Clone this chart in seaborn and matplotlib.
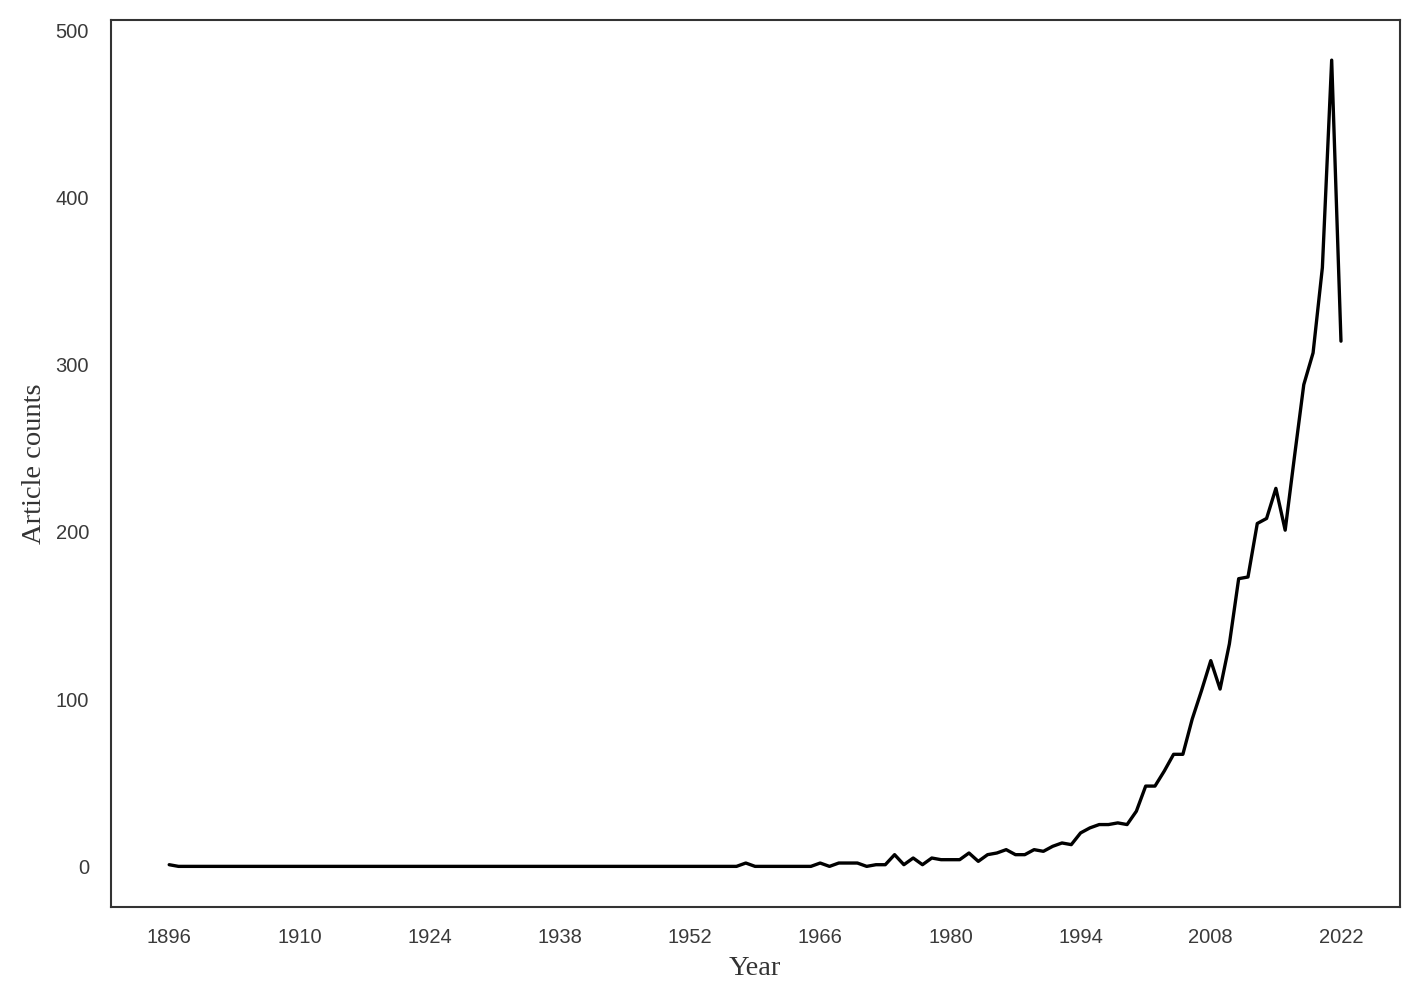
import matplotlib
matplotlib.use("Agg")
import matplotlib.pyplot as plt
import seaborn as sns
import pandas as pd

years = list(range(1896, 2023))
counts = [
    1,                                   # 1896
    0, 0, 0, 0, 0, 0, 0, 0, 0, 0,        # 1897-1906
    0, 0, 0, 0, 0, 0, 0, 0, 0, 0,        # 1907-1916
    0, 0, 0, 0, 0, 0, 0, 0, 0, 0,        # 1917-1926
    0, 0, 0, 0, 0, 0, 0, 0, 0, 0,        # 1927-1936
    0, 0, 0, 0, 0, 0, 0, 0, 0, 0,        # 1937-1946
    0, 0, 0, 0, 0, 0, 0, 0, 0, 0,        # 1947-1956
    0, 2, 0, 0, 0, 0, 0, 0, 0,           # 1957-1965
    2, 0, 2, 2, 2, 0, 1, 1, 7, 1,        # 1966-1975
    5, 1, 5, 4, 4, 4, 8, 3, 7, 8,        # 1976-1985
    10, 7, 7, 10, 9, 12, 14, 13, 20, 23, # 1986-1995
    25, 25, 26, 25, 33, 48, 48, 57, 67, 67,          # 1996-2005
    88, 105, 123, 106, 133, 172, 173, 205, 208, 226, # 2006-2015
    201, 245, 288, 307, 358, 482, 314,               # 2016-2022
]
xticks = list(range(1896, 2023, 14))

df = pd.DataFrame({"Year": years, "Article counts": counts})

sns.set_style("white")
plt.rcParams["font.family"] = ["Liberation Sans", "DejaVu Sans"]

fig = plt.figure(figsize=(14.18, 9.92), dpi=100)
ax = fig.add_axes([0.078, 0.086, 0.909, 0.894])
sns.lineplot(data=df, x="Year", y="Article counts", color="black", linewidth=2.4, ax=ax)

ax.set_xticks(xticks)
ax.tick_params(axis="both", labelsize=14.5, pad=12, colors="#3a3a3a")
ax.set_xlabel("Year", family="Liberation Serif", fontsize=20.5, color="#333333", labelpad=6)
ax.set_ylabel("Article counts", family="Liberation Serif", fontsize=20.5, color="#333333", labelpad=6)
for s in ax.spines.values():
    s.set_color("#333333")
    s.set_linewidth(1.5)

fig.savefig("out.png", dpi=100)
